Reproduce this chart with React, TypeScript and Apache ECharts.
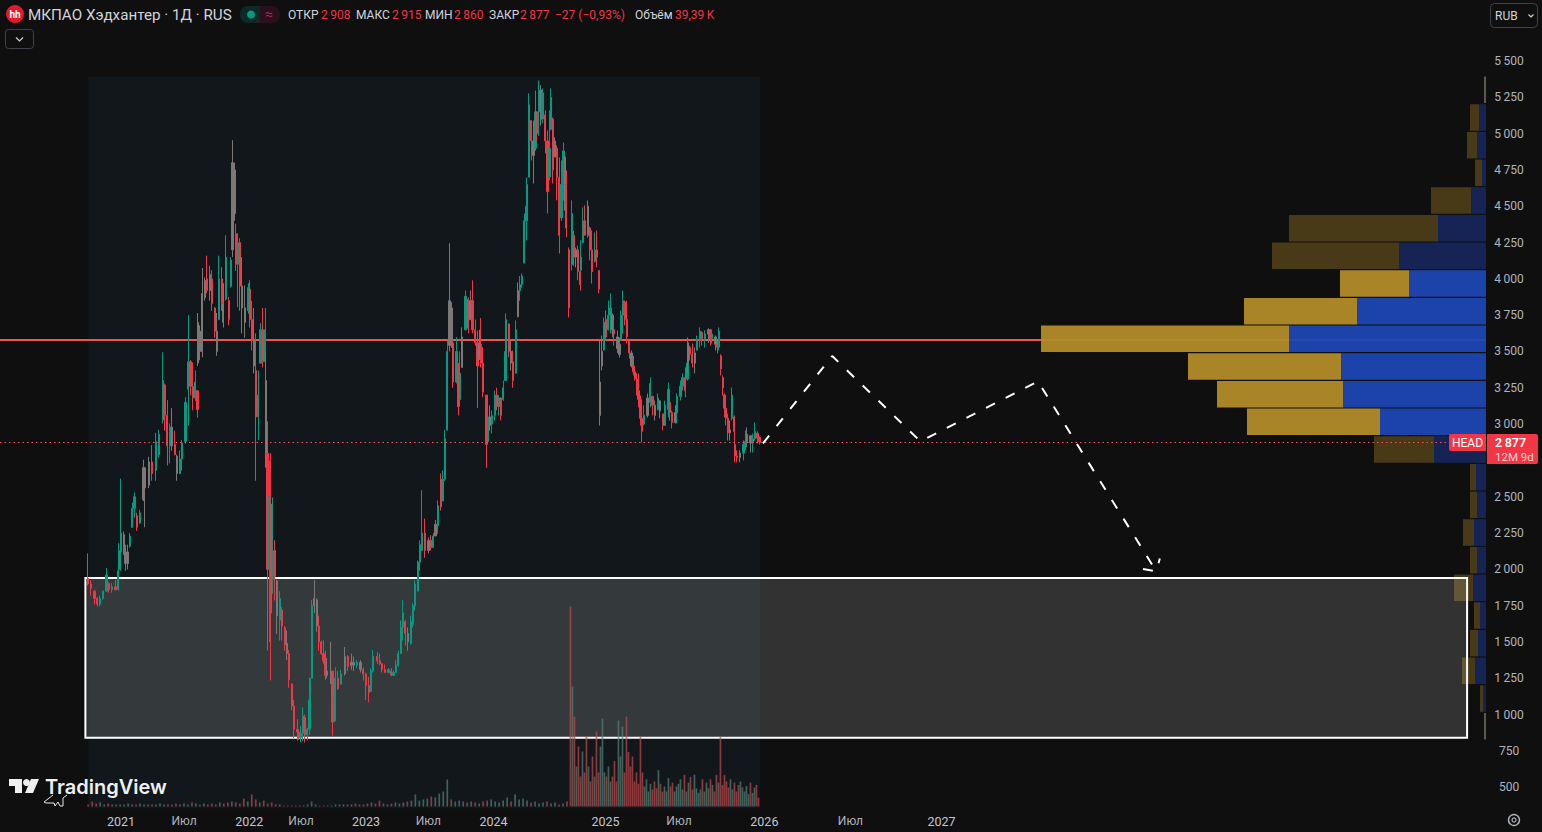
import React, { useEffect, useRef } from "react";
import * as echarts from "echarts";

// [bar number, open, close, low, high]
const candles2020to2021 = [
[0,1937,1900,1889,2110],[4,1900,1870,1820,1925],[9,1850,1800,1758,1860],[13,1800,1760,1745,1810],[17,1760,1800,1745,1820],[21,1800,1850,1790,1855],[26,1850,1960,1850,2010],[30,1905,1860,1840,1910],[34,1860,1880,1840,1905],[39,1880,1860,1855,1925],[43,1860,1990,1855,2040],[44,2000,2130,1990,2180],[47,2120,2250,1990,2625],[51,2240,2150,2100,2260],[53,2150,2040,1990,2170],[56,2040,2120,2000,2170],[60,2160,2230,2150,2250],[63,2290,2420,2285,2460],[66,2420,2500,2355,2530],[70,2370,2290,2265,2390],[74,2320,2390,2315,2410],[79,2480,2700,2470,2755],[81,2700,2560,2290,2705],[87,2580,2740,2560,2775],[91,2740,2660,2610,2855],[97,2680,2880,2610,2940],[101,2790,2930,2770,2960],[107,3030,3300,3005,3495],[110,3270,3060,2955,3280],[113,3060,2850,2715,3165],[117,2850,2980,2730,3005],[120,2980,2850,2815,3110],[124,2860,2790,2785,2955],[127,2780,2660,2610,2790],[131,2660,2760,2655,2820],[134,2760,2870,2680,2890],[139,2880,3150,2865,3185],[143,3240,3430,2990,3750],[146,3430,3260,3197,3440],[150,3260,3180,3095,3425],[153,3180,3290,3160,3370],[156,3230,3100,3045,3235],[157,3420,3700,3400,3765],[160,3640,3500,3440,3680],[163,3500,3900,3460,4075],[167,3870,3990,3850,4010],[170,4000,3920,3900,4160],[174,3920,4030,3850,4090],[177,4000,3830,3780,4060],[181,3800,3640,3595,3805],[184,3640,3500,3470,3765],[187,3720,4000,3715,4160],[191,4000,3830,3780,4080],[193,3830,3700,3665,3970],[197,3860,4150,3850,4300],[201,3850,3720,3680,3875],[204,3950,4130,3940,4150],[206,4200,4800,4150,4955],[209,4750,4450,4400,4800],[211,4310,4100,4055,4380],[214,4100,4250,3805,4315],[217,4250,3950,3780,4280],[220,3950,3800,3625,4150],[224,3800,3700,3595,3955],[229,3780,3940,3760,3970],[231,3930,3720,3665,3990],[234,3720,3580,3507,3850],[237,3580,3400,3350,3800],[240,3370,3050,2610,3625],[243,3050,3200,2890,3370],[246,3420,3650,3415,3695],[250,3650,3430,3390,3800],[253,3430,3650,3390,3800]];
const candles2022 = [
[254,3300,2800,2700,3500],[256,2800,2000,1440,3020],[259,2000,2500,1500,2750],[261,2450,1700,1235,2800],[264,1930,2130,1830,2495],[267,2130,1950,1786,2200],[270,1920,1680,1555,1930],[274,1650,1800,1510,1850],[277,1720,1610,1510,1740],[281,1600,1480,1440,1610],[284,1490,1420,1375,1580],[287,1420,1240,1185,1445],[291,1210,1060,1030,1215],[294,1060,900,840,1100],[299,900,880,820,970],[301,880,840,825,890],[304,840,870,810,920],[307,870,990,820,1050],[310,980,860,808,1000],[313,860,900,822,910],[316,900,1100,860,1170],[317,1100,1250,870,1256],[320,1250,1750,1250,1790],[323,1750,1800,1700,1925],[327,1790,1610,1570,1800],[330,1610,1500,1440,1680],[333,1500,1420,1410,1510],[336,1420,1370,1350,1510],[339,1370,1270,1240,1440],[341,1300,1270,1250,1390],[347,1270,1300,1210,1500],[349,1300,950,855,1300],[351,950,1090,950,1130],[353,1090,1250,955,1325],[357,1250,1180,1170,1300],[361,1210,1280,1205,1310],[367,1280,1400,1270,1465],[371,1400,1330,1300,1410],[376,1340,1360,1310,1420],[380,1360,1340,1300,1400],[384,1340,1360,1320,1375],[389,1360,1310,1290,1375],[393,1310,1280,1235,1325],[397,1280,1200,1100,1290],[401,1200,1150,1085,1260]];
const candles2023 = [
[404,1160,1300,1160,1320],[407,1300,1400,1290,1445],[413,1400,1370,1350,1430],[417,1370,1350,1340,1420],[420,1350,1310,1290,1355],[424,1310,1290,1290,1345],[429,1290,1310,1285,1320],[433,1300,1270,1265,1320],[436,1270,1290,1270,1305],[440,1290,1340,1290,1375],[443,1340,1420,1330,1440],[447,1420,1600,1420,1650],[450,1600,1700,1510,1790],[453,1640,1560,1475,1650],[457,1560,1500,1440,1600],[461,1490,1640,1480,1680],[464,1620,1750,1600,1766],[467,1750,1900,1717,1925],[471,1850,2050,1850,2061],[474,2050,2170,1990,2200],[477,2130,2250,2130,2545],[481,2250,2130,2080,2350],[486,2130,2200,2110,2220],[490,2200,2150,2130,2235],[493,2150,2230,2150,2250],[496,2230,2310,2230,2340],[500,2300,2440,2245,2475],[504,2620,2430,2405,2660],[507,2470,2620,2470,2680],[510,2620,2900,2610,2960],[513,2960,3500,2955,3575],[516,3541,3850,3500,4245],[519,3800,3560,3525,3840],[521,3560,3290,3250,3575],[526,3290,3500,3280,3600],[529,3400,3120,3060,3420],[531,3170,3350,3165,3500],[534,3390,3600,3390,3666],[539,3650,3880,3645,3920],[543,3860,3660,3625,3872],[546,3720,3850,3715,3920],[549,3850,3650,3625,3990],[553,3650,3560,3540,3720],[556,3560,3400,3110,3645],[559,3450,3550,3440,3650],[561,3550,3420,3390,3730],[564,3420,3220,3185,3530],[569,3200,2860,2700,3200],[571,2880,3050,2865,3110],[574,3050,2990,2955,3130],[577,3000,3060,2935,3095]];
const candles2024 = [
[581,3060,3200,3025,3230],[584,3200,3120,3095,3250],[587,3120,3180,3060,3200],[590,3180,3060,3025,3185],[593,3170,3250,3160,3300],[596,3300,3500,3300,3540],[597,3500,3720,3420,3762],[601,3690,3500,3460,3693],[604,3500,3420,3370,3576],[607,3430,3300,3250,3507],[611,3350,3650,3350,3714],[614,3740,3920,3735,3975],[617,3920,3960,3850,4020],[620,3960,4020,3940,4037],[623,4110,4400,4105,4450],[626,4400,4500,4265,4610],[627,4500,4650,4354,4698],[630,4700,5200,4864,5277],[633,5090,4950,4815,5090],[636,4950,4850,4657,5090],[639,4900,5150,4885,5228],[640,5150,4950,4884,5297],[643,5000,5150,4985,5330],[644,5150,5300,5022,5366],[647,5300,5100,5055,5332],[649,5100,5280,5070,5311],[653,5130,4950,4864,5160],[656,4950,4600,4450,5022],[659,4700,4900,4680,5160],[661,5030,5250,5022,5311],[664,5100,4750,4657,5111],[667,4840,4950,4836,4974],[670,4900,4700,4540,4920],[673,4700,4300,4175,4836],[676,4420,4650,4400,4815],[679,4600,4880,4540,4939],[681,4840,4650,4470,4850],[683,4650,4350,4285,4747],[687,4200,3800,3735,4216],[691,4100,4450,4058,4540],[694,4300,4150,4090,4330],[697,4150,4200,4079,4216],[700,4200,4050,3990,4230],[703,4050,3960,3920,4196],[704,4060,4150,4050,4265],[707,4250,4400,4244,4492],[710,4400,4300,4300,4506],[714,4300,4500,4285,4540],[717,4350,4200,4127,4360],[720,4200,4050,3968,4333],[724,4120,4200,4113,4320],[727,4200,4150,4079,4333],[730,4058,3930,3900,4058],[731,3060,3290,2990,3576]];
const candles2025 = [
[734,3400,3500,3370,3610],[737,3510,3700,3507,3734],[740,3720,3600,3576,3783],[743,3650,3750,3645,3851],[746,3750,3800,3624,3900],[749,3750,3650,3597,3762],[751,3650,3620,3540,3713],[756,3600,3520,3490,3645],[759,3480,3550,3459,3597],[761,3580,3750,3576,3783],[764,3750,3850,3624,3920],[767,3840,3720,3680,3851],[770,3720,3600,3555,3851],[773,3570,3490,3450,3576],[776,3490,3400,3390,3507],[779,3400,3360,3335,3470],[781,3360,3310,3300,3390],[784,3310,3230,3197,3350],[786,3230,3170,3115,3349],[789,3170,3040,2990,3197],[791,3040,2950,2874,3094],[794,3000,3060,2990,3130],[799,3060,3180,3046,3211],[803,3150,3280,3115,3321],[806,3190,3130,3060,3197],[810,3130,3060,3025,3163],[814,3100,3180,3094,3211],[817,3160,3090,3040,3165],[821,3070,2990,2956,3073],[824,2990,3130,2990,3163],[829,3100,3240,3046,3287],[831,3150,3080,3025,3165],[834,3080,3010,2970,3094],[839,3010,3080,3005,3130],[841,3080,3190,3005,3211],[846,3190,3260,3163,3300],[849,3260,3320,3232,3349],[853,3320,3230,3184,3390],[856,3310,3420,3300,3507],[857,3420,3560,3349,3597],[860,3530,3480,3438,3540],[863,3480,3420,3390,3555],[867,3420,3490,3349,3528],[870,3510,3580,3507,3610],[874,3580,3640,3528,3666],[877,3630,3590,3540,3640],[881,3590,3620,3528,3645],[886,3620,3650,3560,3660],[889,3650,3590,3540,3650],[891,3590,3620,3555,3645],[896,3600,3550,3507,3610],[899,3550,3530,3487,3576],[901,3530,3640,3507,3666],[904,3470,3380,3335,3480],[907,3320,3250,3197,3335],[909,3200,3110,3046,3211],[911,3110,3040,2991,3130],[914,3040,2940,2887,3073],[917,2940,2960,2887,3025],[920,3040,3200,3025,3252],[923,3050,2950,2853,3060],[924,2860,2780,2736,2867],[927,2780,2770,2736,2820],[931,2770,2800,2736,2820],[936,2800,2860,2750,2888],[939,2860,2880,2819,2956],[941,2880,2930,2840,2977],[946,2920,2870,2805,2925],[949,2870,2900,2805,2935],[953,2900,2950,2887,3011],[956,2935,2905,2867,2950],[959,2908,2877,2860,2915]];
const grayBars = [51,53,56,79,81,87,120,127,157,160,163,167,174,184,193,206,209,220,224,237,254,270,284,323,327,341,347,367,376,380,389,457,486,496,516,519,534,546,559,574,604,614,636,647,667,681,697,714,731,734,749,756,759,776,799,810,817,839,857,867,886,896,917,931,941,946];

// volume, thousands, one every few bars before the late-2024 relisting
const volumeEarly = [9,22,13,18,9,13,9,9,9,9,13,9,9,13,9,9,9,9,13,9,9,9,13,9,13,9,18,13,9,13,9,13,9,18,13,18,22,18,13,35,22,53,31,18,26,13,18,9,9,4,4,4,4,4,4,9,22,9,4,4,4,4,9,9,9,9,9,13,9,9,13,18,13,26,13,9,13,18,13,18,22,26,53,26,31,35,44,40,57,66,119,31,22,26,22,18,22,18,13,22,26,31,22,18,26,40,22,53,31,35,26,18,22,13,18,22,13,18,9,13,22];
const volumeLate = [880,528,396,176,264,132,242,150,308,176,110,220,132,330,150,264,387,150,132,176,110,132,200,110,378,220,352,150,396,240,176,220,110,150,100,308,150,88,120,66,100,75,110,80,160,100,66,88,66,125,88,105,66,88,100,120,75,140,66,105,130,75,140,80,60,75,120,66,105,80,120,95,66,140,105,308,95,140,110,84,120,75,105,66,95,110,84,66,90,55,105,60,84,95,39];

// volume profile rows, top to bottom
const profileUp = [0,7,9,4,15,48,87,77,129,197,145,143,106,52,10,9,12,9,13,6,8,11,3,0];
const profileDown = [2,9,10,7,40,149,127,69,113,248,153,126,133,60,6,7,11,7,19,6,8,13,3,2];
const profileRows = profileUp.map((_, i) => `row${i}`);
const valueAreaRows = [7,8,9,10,11,12];

// drawings
const resistancePrice = 3580;
const lastPrice = 2877;
const forecastPath = [[964,2867],[1063,3469],[1189,2881],[1357,3294],[1526,1986]];
const forecastArrow = [[1507,2003],[1526,1986],[1531,2075]];
const zoneBars = [-4,1970];
const zonePrices = [840,1940];
const shadeBars = [0,960];
const shadePrices = [354,5394];

const timeTicks = [47,137,230,304,397,486,579,739,844,966,1089,1219];
const timeLabels = ["2021","Июл","2022","Июл","2023","Июл","2024","2025","Июл","2026","Июл","2027"];

const FONT = "Roboto, 'Noto Sans', sans-serif";
const UP = "#089981";
const DOWN = "#f23645";
const GRAY = "#7d7775";
const AXIS_TEXT = "#b2b5be";
const TITLE_TEXT = "#d1d4dc";
const X_MIN = -126;
const X_MAX = 1997;

const headerPieces: [number, string, string][] = [
  [288, "ОТКР", TITLE_TEXT],[321, "2\u2009908", DOWN],[356, "МАКС", TITLE_TEXT],[392, "2\u2009915", DOWN],
  [425, "МИН", TITLE_TEXT],[454, "2\u2009860", DOWN],[489, "ЗАКР", TITLE_TEXT],[520, "2\u2009877", DOWN],
  [555, "−27 (−0,93%)", DOWN],[635, "Объём", TITLE_TEXT],[675, "39,39\u2009K", DOWN],
];

const txt = (x: number, y: number, text: string, fill: string, size = 12, extra: any = {}) => ({
  type: "text", x, y, z: 20,
  style: { text, fill, font: `${extra.weight || 400} ${size}px ${extra.family || FONT}`, textAlign: extra.align || "left", textVerticalAlign: "middle" },
});

function buildGraphics() {
  const els: any[] = [
    { type: "circle", shape: { cx: 15, cy: 14, r: 9 }, style: { fill: "#e4172b" }, z: 20 },
    txt(15, 14, "hh", "#ffffff", 10, { align: "center", weight: 700 }),
    txt(28, 15, "МКПАО Хэдхантер · 1Д · RUS", TITLE_TEXT, 15.2),
    { type: "rect", shape: { x: 240, y: 6, width: 20, height: 17, r: [8, 0, 0, 8] }, style: { fill: "#0c2a26" }, z: 20 },
    { type: "rect", shape: { x: 260, y: 6, width: 20, height: 17, r: [0, 8, 8, 0] }, style: { fill: "#2a0f1d" }, z: 20 },
    { type: "circle", shape: { cx: 251, cy: 14.5, r: 4 }, style: { fill: UP }, z: 21 },
    txt(269, 14, "≈", "#a8265a", 14, { align: "center" }),
    ...headerPieces.map(([x, t, c]) => txt(x, 15, t, c, 12)),
    { type: "rect", shape: { x: 5.5, y: 29.5, width: 28, height: 19, r: 3 }, style: { fill: "none", stroke: "#3f424b" }, z: 20 },
    { type: "polyline", shape: { points: [[16, 37.5], [19.5, 41], [23, 37.5]] }, style: { fill: "none", stroke: TITLE_TEXT, lineWidth: 1.2 }, z: 20 },
    { type: "rect", shape: { x: 1490.5, y: 3.5, width: 47, height: 24, r: 4 }, style: { fill: "none", stroke: "#3f424b" }, z: 20 },
    txt(1495, 15.5, "RUB", TITLE_TEXT, 12),
    { type: "polyline", shape: { points: [[1528.5, 14.5], [1531, 17], [1533.5, 14.5]] }, style: { fill: "none", stroke: TITLE_TEXT, lineWidth: 1.2 }, z: 20 },
    { type: "rect", shape: { x: 1449, y: 434, width: 37, height: 17, r: [2, 0, 0, 2] }, style: { fill: DOWN }, z: 20 },
    txt(1467.5, 442.8, "HEAD", "#ffffff", 12, { align: "center" }),
    { type: "rect", shape: { x: 1487, y: 434, width: 51, height: 30, r: [0, 2, 2, 0] }, style: { fill: DOWN }, z: 20 },
    txt(1495, 442.5, "2\u2009877", "#ffffff", 12.5, { weight: 600 }),
    txt(1495, 457, "12M 9d", "#ffd5d8", 11.5),
    { type: "polygon", shape: { points: [[9, 779], [22, 779], [22, 793], [15, 793], [15, 786], [9, 786]] }, style: { fill: "#f0f0f0" }, z: 20 },
    { type: "circle", shape: { cx: 26.5, cy: 782.5, r: 3.5 }, style: { fill: "#f0f0f0" }, z: 20 },
    { type: "polygon", shape: { points: [[31, 779], [39, 779], [33, 793], [25, 793]] }, style: { fill: "#f0f0f0" }, z: 20 },
    txt(45, 787, "TradingView", "#f0f0f0", 20, { weight: 600, family: "Inter, 'Noto Sans', sans-serif" }),
    { type: "polyline", shape: { points: [[53, 795], [44, 802], [46, 803], [54, 803], [55, 806], [58, 802], [60, 806], [63, 806], [63, 798], [67, 795]] }, style: { fill: "none", stroke: "#e8e8e8", lineWidth: 1 }, z: 20 },
    { type: "circle", shape: { cx: 1514, cy: 820, r: 5.5 }, style: { fill: "none", stroke: AXIS_TEXT, lineWidth: 1.4 }, z: 20 },
    { type: "circle", shape: { cx: 1514, cy: 820, r: 2 }, style: { fill: "none", stroke: AXIS_TEXT, lineWidth: 1.2 }, z: 20 },
  ];
  return els;
}

const App = () => {
  const ref = useRef<HTMLDivElement>(null);
  useEffect(() => {
    document.body.style.margin = "0";
    document.body.style.background = "#0f0f0f";
    const chart = echarts.init(ref.current!, undefined, { renderer: "svg" });
    const candles = [...candles2020to2021, ...candles2022, ...candles2023, ...candles2024, ...candles2025];
    const grays = new Set(grayBars);
    const candleData = candles.map((r) =>
      grays.has(r[0])
        ? { value: r, itemStyle: { color: GRAY, color0: GRAY, borderColor: GRAY, borderColor0: GRAY } }
        : { value: r }
    );
    const isUpNear = (bar: number) => {
      let best = candles[0];
      for (const c of candles) if (Math.abs(c[0] - bar) < Math.abs(best[0] - bar)) best = c;
      return best[2] >= best[1];
    };
    const volBar = (bar: number, v: number) => ({
      value: [bar, v],
      itemStyle: { color: isUpNear(bar) ? "rgba(84,128,116,0.72)" : "rgba(188,72,76,0.72)" },
    });
    const volumeData = [
      ...volumeEarly.map((v, i) => volBar(i * 5.7, v)),
      ...volumeLate.map((v, i) => volBar(689 + i * 2.857, v)),
    ];
    const hiddenAxis = (gridIndex: number, extra: any = {}) => ({
      gridIndex, show: false, ...extra,
    });
    chart.setOption({
      animation: false,
      backgroundColor: "#0f0f0f",
      grid: [
        { left: 0, top: 61, width: 1486, height: 762.56 },
        { left: 0, top: 590, width: 1486, height: 216.5 },
        { left: 986, top: 76, width: 500, height: 664 },
      ],
      xAxis: [
        hiddenAxis(0, { type: "value", min: X_MIN, max: X_MAX }),
        {
          gridIndex: 1, type: "value", min: X_MIN, max: X_MAX,
          splitLine: { show: false }, axisLine: { show: false }, axisTick: { show: false },
          axisLabel: {
            customValues: timeTicks, margin: 8, hideOverlap: false,
            formatter: (v: number) => {
              const t = timeLabels[timeTicks.indexOf(v)] ?? "";
              return t === "Июл" ? `{m|${t}}` : `{y|${t}}`;
            },
            rich: {
              y: { color: "#c4c7cf", fontFamily: FONT, fontSize: 12.5, fontWeight: 400 },
              m: { color: AXIS_TEXT, fontFamily: FONT, fontSize: 12 },
            },
          },
        },
        hiddenAxis(2, { type: "value", min: 0, max: 500, inverse: true }),
      ],
      yAxis: [
        {
          gridIndex: 0, type: "value", position: "right", min: 250, max: 5500, interval: 250,
          splitLine: { show: false }, axisLine: { show: false }, axisTick: { show: false },
          axisLabel: {
            color: AXIS_TEXT, fontFamily: FONT, fontSize: 12, align: "center", margin: 23, padding: [1, 0, 0, 0],
            formatter: (v: number) => {
              // 250 lies below the pane and 2750 sits under the last-price tag
              if (v < 500 || v === 2750) return "";
              return v < 1000 ? String(v) : `${Math.floor(v / 1000)}\u2009${String(v % 1000).padStart(3, "0")}`;
            },
          },
        },
        hiddenAxis(1, { type: "value", min: 0, max: 953 }),
        hiddenAxis(2, { type: "category", data: profileRows, inverse: true }),
      ],
      series: [
        {
          type: "line", xAxisIndex: 0, yAxisIndex: 0, data: [[0, 3000]], symbolSize: 0, showSymbol: false, lineStyle: { opacity: 0 }, silent: true,
          markArea: {
            silent: true, z: 0,
            data: [[{ coord: [shadeBars[0], shadePrices[1]], itemStyle: { color: "#11171b" } }, { coord: [shadeBars[1], shadePrices[0]] }]],
          },
          markLine: {
            silent: true, z: 1, symbol: "none", label: { show: false },
            lineStyle: { color: "#ef5350", width: 2, type: "solid" },
            data: [{ yAxis: resistancePrice }],
          },
        },
        {
          name: "profileUp", type: "bar", xAxisIndex: 2, yAxisIndex: 2, stack: "vp", barWidth: 26.5, z: 2, silent: true,
          data: profileUp.map((v, i) => ({
            value: v,
            itemStyle: { color: valueAreaRows.includes(i) ? "#1e47b5" : "#16265a", opacity: 0.94 },
          })),
        },
        {
          name: "profileDown", type: "bar", xAxisIndex: 2, yAxisIndex: 2, stack: "vp", barWidth: 26.5, z: 2, silent: true,
          data: profileDown.map((v, i) => ({
            value: v,
            itemStyle: { color: valueAreaRows.includes(i) ? "#b48d2a" : i === 0 || i === 23 ? "#5f5f55" : "#4d3e17", opacity: 0.94 },
          })),
        },
        {
          type: "line", xAxisIndex: 0, yAxisIndex: 0, data: [[0, 3000]], symbolSize: 0, showSymbol: false, lineStyle: { opacity: 0 }, silent: true,
          markArea: {
            silent: true, z: 3,
            data: [[
              { coord: [zoneBars[0], zonePrices[1]], itemStyle: { color: "rgba(255,255,255,0.15)", borderColor: "#ffffff", borderWidth: 2 } },
              { coord: [zoneBars[1], zonePrices[0]] },
            ]],
          },
          markLine: {
            silent: true, z: 6, symbol: "none", label: { show: false },
            lineStyle: { color: "#f7525f", width: 1, type: [1.5, 3] },
            data: [{ yAxis: lastPrice }],
          },
        },
        {
          type: "candlestick", xAxisIndex: 0, yAxisIndex: 0, barWidth: 1.9, z: 4, silent: true,
          itemStyle: { color: UP, color0: DOWN, borderColor: UP, borderColor0: DOWN, borderWidth: 1 },
          data: candleData,
        },
        {
          type: "bar", xAxisIndex: 1, yAxisIndex: 1, barWidth: 1.7, z: 4, silent: true,
          data: volumeData,
        },
        {
          type: "line", xAxisIndex: 0, yAxisIndex: 0, z: 5, showSymbol: false, silent: true,
          lineStyle: { color: "#ffffff", width: 2, type: [10, 12] },
          data: forecastPath,
        },
        {
          type: "line", xAxisIndex: 0, yAxisIndex: 0, z: 5, showSymbol: false, silent: true,
          lineStyle: { color: "#ffffff", width: 2, type: [10, 12] },
          data: forecastArrow,
        },
      ],
      graphic: { elements: buildGraphics() },
    });
    return () => chart.dispose();
  }, []);
  return <div ref={ref} style={{ width: 1542, height: 832 }} />;
};

export default App;
